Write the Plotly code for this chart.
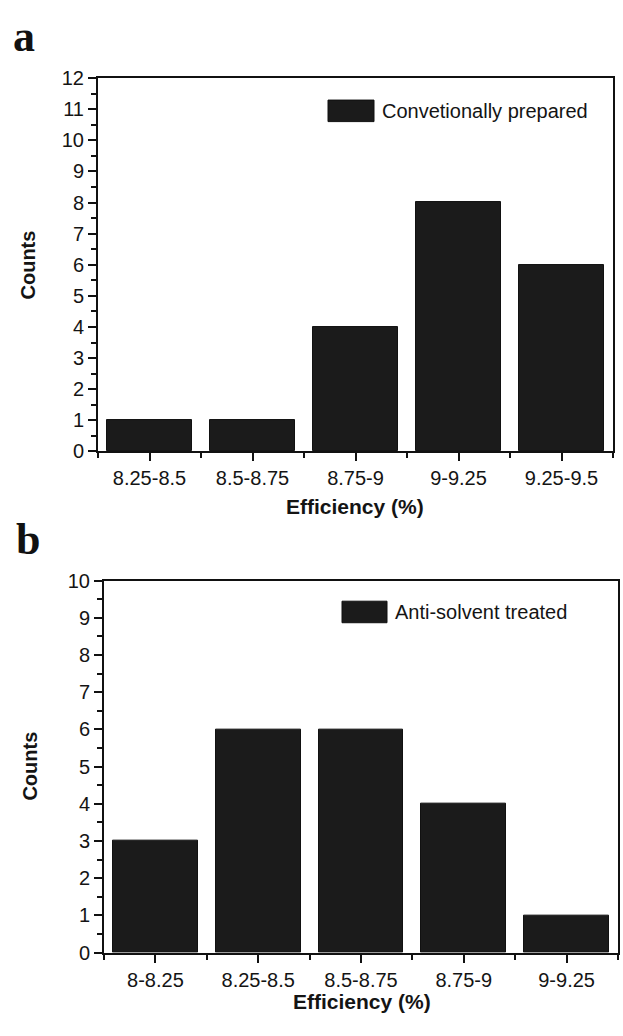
import plotly.graph_objects as go

W, H = 623, 1036

# Data
cats_a = ["8.25-8.5", "8.5-8.75", "8.75-9", "9-9.25", "9.25-9.5"]
counts_a = [1, 1, 4, 8, 6]
name_a = "Convetionally prepared"

cats_b = ["8-8.25", "8.25-8.5", "8.5-8.75", "8.75-9", "9-9.25"]
counts_b = [3, 6, 6, 4, 1]
name_b = "Anti-solvent treated"

xlabel = "Efficiency (%)"
ylabel = "Counts"

def px(x):
    return x / W

def py(y):
    return 1 - y / H

BAR = "#1b1b1b"
FONT = "Liberation Sans, Arial, sans-serif"

fig = go.Figure()
fig.add_trace(go.Bar(x=list(range(len(cats_a))), y=counts_a, name=name_a,
                     marker=dict(color=BAR, line=dict(color="#111", width=1)),
                     width=0.825, xaxis="x", yaxis="y", showlegend=False))
fig.add_trace(go.Bar(x=list(range(len(cats_b))), y=counts_b, name=name_b,
                     marker=dict(color=BAR, line=dict(color="#111", width=1)),
                     width=0.825, xaxis="x2", yaxis="y2", showlegend=False))

def xaxis(dom, anchor, cats):
    return dict(domain=dom, anchor=anchor, range=[-0.5, len(cats) - 0.5],
                tickmode="array", tickvals=list(range(len(cats))), ticktext=cats,
                ticks="outside", ticklen=8, tickwidth=2, tickcolor="#111",
                showline=True, linecolor="#111", linewidth=2, mirror=True,
                showgrid=False, zeroline=False,
                tickfont=dict(family=FONT, size=20, color="#141414"),
                minor=dict(tickmode="array",
                           tickvals=[i - 0.5 for i in range(len(cats) + 1)],
                           ticks="outside", ticklen=5, tickwidth=2, tickcolor="#111"))

def yaxis(dom, anchor, top):
    return dict(domain=dom, anchor=anchor, range=[0, top],
                tickmode="linear", tick0=0, dtick=1,
                ticks="outside", ticklen=8, tickwidth=2, tickcolor="#111",
                showline=True, linecolor="#111", linewidth=2, mirror=True,
                showgrid=False, zeroline=False,
                tickfont=dict(family=FONT, size=20, color="#141414"),
                minor=dict(tick0=0.5, dtick=1, ticks="outside", ticklen=5,
                           tickwidth=2, tickcolor="#111"))

fig.update_layout(
    width=W, height=H,
    margin=dict(l=0, r=0, t=0, b=0),
    paper_bgcolor="white", plot_bgcolor="white",
    bargap=0,
    xaxis=xaxis([px(98), px(613)], "y", cats_a),
    yaxis=yaxis([py(450), py(68.5)], "x", 12),
    xaxis2=xaxis([px(104), px(618)], "y2", cats_b),
    yaxis2=yaxis([py(962), py(582)], "x2", 10),
)

shapes = []
annotations = []

# legend-like boxes
for (x0, x1, y0, y1, tx, ty, name) in [
    (328, 374, 91, 113, 380, 102, name_a),
    (342, 387, 603, 625, 393, 614, name_b),
]:
    shapes.append(dict(type="rect", xref="paper", yref="paper",
                       x0=px(x0), x1=px(x1), y0=py(y1), y1=py(y0),
                       fillcolor=BAR, line=dict(color="#111", width=1)))
    annotations.append(dict(text=name, xref="paper", yref="paper",
                            x=px(tx), y=py(ty), xanchor="left", yanchor="middle",
                            showarrow=False,
                            font=dict(family=FONT, size=20, color="#141414")))

# axis titles
for (x, y) in [(355, 506), (362, 1012)]:
    annotations.append(dict(text="<b>" + xlabel + "</b>", xref="paper", yref="paper",
                            x=px(x), y=py(y), xanchor="center", yanchor="middle",
                            showarrow=False,
                            font=dict(family=FONT, size=21, color="#141414")))
for (x, y) in [(27, 259), (30, 772)]:
    annotations.append(dict(text="<b>" + ylabel + "</b>", xref="paper", yref="paper",
                            x=px(x), y=py(y), xanchor="center", yanchor="middle",
                            textangle=-90, showarrow=False,
                            font=dict(family=FONT, size=20, color="#141414")))

# panel letters
for (t, x, y) in [("a", 24, 26), ("b", 28, 540)]:
    annotations.append(dict(text="<b>" + t + "</b>", xref="paper", yref="paper",
                            x=px(x), y=py(y), xanchor="center", yanchor="middle",
                            showarrow=False,
                            font=dict(family="Liberation Serif, Times New Roman, serif",
                                      size=44, color="#111")))

fig.update_layout(shapes=shapes, annotations=annotations)
fig.write_html("out.html")
